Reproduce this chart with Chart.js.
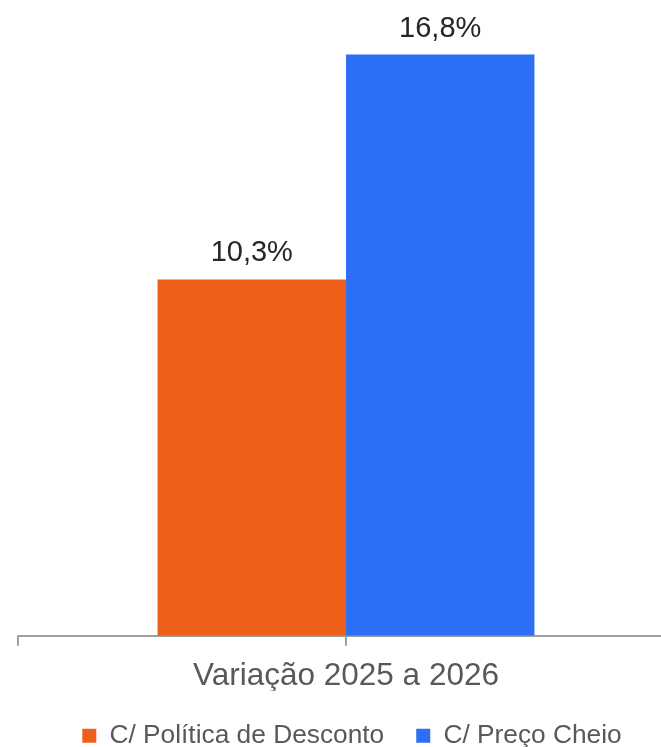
<!DOCTYPE html>
<html>
<head>
<meta charset="utf-8">
<style>
  html, body { margin: 0; padding: 0; background: #fff; overflow: hidden; }
  #wrap { width: 702px; height: 759px; }
</style>
</head>
<body>
<div id="wrap"><canvas id="chart" width="702" height="759"></canvas></div>

<script src="https://cdn.jsdelivr.net/npm/chart.js@4/dist/chart.umd.min.js"></script>
<script>
    // data
    var categories = ['Variação 2025 a 2026'];
    var seriesNames = ['C/ Política de Desconto', 'C/ Preço Cheio'];
    var descontoValues = [10.3];
    var cheioValues = [16.8];

    var colors = ['#ee601a', '#2d6ff4'];
    var fontFamily = '"Liberation Sans", Arial, sans-serif';

    function fmt(v) {
        return v.toFixed(1).replace('.', ',') + '%';
    }

    // value labels above each bar
    var valueLabels = {
        id: 'valueLabels',
        afterDatasetsDraw: function (chart) {
            var ctx = chart.ctx;
            ctx.save();
            ctx.font = '29px ' + fontFamily;
            ctx.fillStyle = '#262626';
            ctx.textAlign = 'center';
            ctx.textBaseline = 'alphabetic';
            chart.data.datasets.forEach(function (ds, i) {
                chart.getDatasetMeta(i).data.forEach(function (bar, j) {
                    ctx.fillText(fmt(ds.data[j]), bar.x, bar.y - 18);
                });
            });
            ctx.restore();
        }
    };

    new Chart(document.getElementById('chart'), {
        type: 'bar',
        data: {
            labels: categories,
            datasets: [
                {
                    label: seriesNames[0],
                    data: descontoValues,
                    backgroundColor: colors[0],
                    borderWidth: 0
                },
                {
                    label: seriesNames[1],
                    data: cheioValues,
                    backgroundColor: colors[1],
                    borderWidth: 0
                }
            ]
        },
        options: {
            responsive: false,
            animation: false,
            // ruler spacing is the half-category between the two tick marks
            categoryPercentage: 1.149,
            barPercentage: 1,
            layout: {
                padding: { left: 18, right: 16, top: 13, bottom: 0 }
            },
            scales: {
                x: {
                    offset: true,
                    afterBuildTicks: function (scale) {
                        // tick marks at the left edge and the category centre
                        scale.ticks = [{ value: -0.5 }, { value: 0 }];
                    },
                    afterFit: function (scale) {
                        scale.height = 55;
                    },
                    grid: {
                        offset: false,
                        drawOnChartArea: false,
                        tickLength: 10,
                        lineWidth: 2,
                        color: '#a0a0a0'
                    },
                    border: { display: true, width: 2, color: '#a0a0a0' },
                    ticks: {
                        padding: 12,
                        color: '#595959',
                        font: { family: fontFamily, size: 31.5 },
                        maxRotation: 0,
                        autoSkip: false,
                        callback: function (value) {
                            return value === 0 ? categories[0] : '';
                        }
                    }
                },
                y: {
                    position: 'right',
                    min: 0,
                    max: 18,
                    // invisible, only keeps a little room on the right
                    afterFit: function (scale) {
                        scale.width = 12;
                    },
                    ticks: { display: false },
                    grid: { display: false },
                    border: { display: false }
                }
            },
            plugins: {
                legend: {
                    position: 'bottom',
                    labels: {
                        color: '#595959',
                        font: { family: fontFamily, size: 26.3 },
                        boxWidth: 14,
                        boxHeight: 14,
                        padding: 32
                    }
                },
                tooltip: { enabled: false }
            }
        },
        plugins: [valueLabels]
    });
</script>
</body>
</html>
